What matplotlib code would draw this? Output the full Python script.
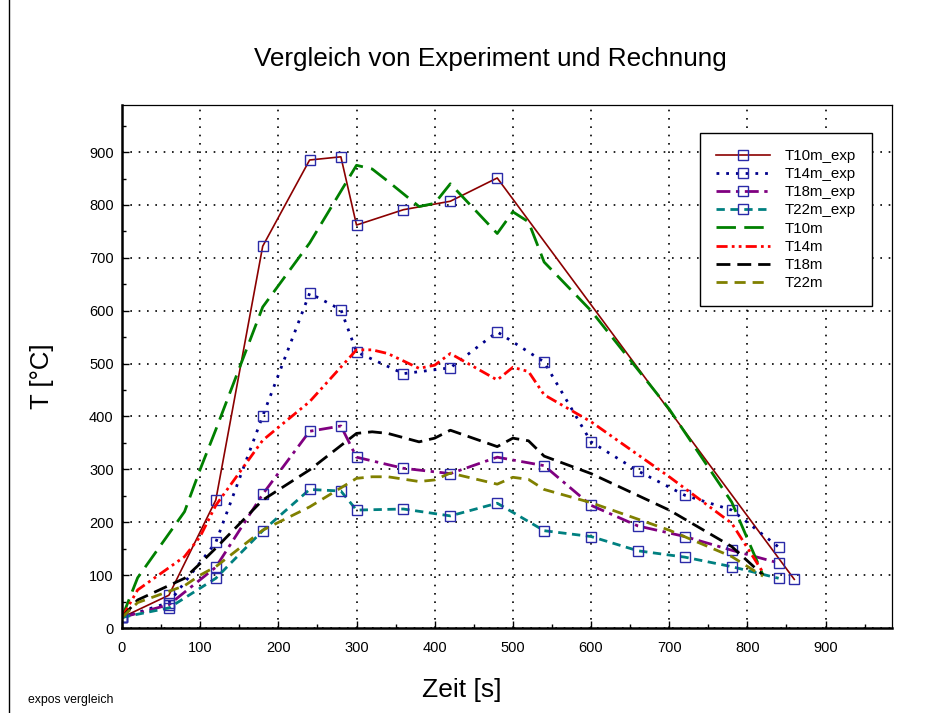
import matplotlib
matplotlib.use("Agg")
import matplotlib.pyplot as plt
from matplotlib.lines import Line2D
from matplotlib.ticker import MultipleLocator

plt.rcParams['font.family'] = ['Liberation Sans', 'DejaVu Sans']

# ---------------- data ----------------
t_exp10 = [0, 60, 120, 180, 240, 280, 300, 360, 420, 480, 860]
T10m_exp = [20, 62, 242, 722, 885, 891, 762, 791, 807, 851, 92]

t_exp = [0, 60, 120, 180, 240, 280, 300, 360, 420, 480, 540, 600, 660, 720, 780, 840]
T14m_exp = [20, 48, 162, 401, 633, 602, 522, 481, 492, 560, 503, 352, 297, 251, 223, 153]
T18m_exp = [20, 44, 115, 253, 372, 382, 323, 302, 292, 323, 307, 232, 193, 173, 147, 123]
T22m_exp = [20, 38, 94, 184, 262, 259, 223, 225, 212, 236, 184, 173, 146, 134, 116, 94]

t_sim = [0, 20, 80, 100, 120, 180, 240, 300, 320, 340, 380, 400, 420, 480, 500, 520, 540, 600, 700, 780, 820]
T10m = [20, 95, 220, 300, 375, 607, 728, 875, 868, 845, 797, 803, 840, 746, 787, 768, 692, 600, 414, 238, 100]
T14m = [20, 72, 135, 173, 232, 355, 428, 526, 526, 519, 491, 497, 519, 469, 493, 485, 441, 390, 286, 198, 105]
T18m = [20, 53, 94, 122, 151, 242, 299, 368, 371, 368, 352, 359, 374, 343, 359, 354, 325, 292, 223, 154, 100]
T22m = [20, 48, 80, 100, 116, 185, 229, 283, 286, 286, 277, 280, 293, 272, 285, 281, 262, 237, 185, 135, 98]

x_ticks = [0, 100, 200, 300, 400, 500, 600, 700, 800, 900]
y_ticks = [0, 100, 200, 300, 400, 500, 600, 700, 800, 900]

title = "Vergleich von Experiment und Rechnung"
xlabel = "Zeit [s]"
ylabel = "T [°C]"
footer = "expos vergleich"

# ---------------- figure ----------------
W, H = 943, 713
fig = plt.figure(figsize=(W / 100, H / 100), dpi=100)
ax = fig.add_axes([122 / W, (H - 628) / H, (892 - 122) / W, (628 - 105) / H])

mk = dict(marker='s', markersize=7, markerfacecolor='none',
          markeredgecolor='#2a2aa8', markeredgewidth=1.0)

ax.plot(t_exp10, T10m_exp, color='#8b0000', lw=1.2, label='T10m_exp', **mk)
ax.plot(t_exp, T14m_exp, color='#00008b', lw=2.0, linestyle=(0, (1, 2.5)), label='T14m_exp', **mk)
ax.plot(t_exp, T18m_exp, color='#800080', lw=2.0, linestyle=(0, (5, 2, 1.2, 2)), label='T18m_exp', **mk)
ax.plot(t_exp, T22m_exp, color='#008080', lw=2.0, linestyle=(0, (3, 2)), label='T22m_exp', **mk)

ax.plot(t_sim, T10m, color='#008000', lw=2.0, linestyle=(0, (7, 3)), label='T10m')
ax.plot(t_sim, T14m, color='#ff0000', lw=2.0, linestyle=(0, (4, 1.5, 1, 1.5, 1, 1.5)), label='T14m')
ax.plot(t_sim, T18m, color='#000000', lw=2.0, linestyle=(0, (5, 2.5)), label='T18m')
ax.plot(t_sim, T22m, color='#808000', lw=2.0, linestyle=(0, (4, 2.5)), label='T22m')

ax.set_xlim(0, 985)
ax.set_ylim(0, 989)
ax.set_xticks(x_ticks)
ax.set_yticks(y_ticks)
ax.xaxis.set_minor_locator(MultipleLocator(50))
ax.yaxis.set_minor_locator(MultipleLocator(50))
ax.tick_params(which='both', direction='in', top=False, right=False, labelsize=10.5)
ax.tick_params(axis='x', pad=9)
ax.tick_params(axis='y', pad=6)
ax.tick_params(which='major', length=5, width=1)
ax.tick_params(which='minor', length=3, width=1)
ax.grid(True, which='major', color='black', linestyle=(0, (1, 4)), lw=1.2)
ax.set_axisbelow(True)

for s in ['left', 'bottom']:
    ax.spines[s].set_linewidth(1.8)
for s in ['top', 'right']:
    ax.spines[s].set_linewidth(0.9)

fig.text(490 / W, 1 - 59 / H, title, ha='center', va='center', fontsize=18.8)
fig.text(462 / W, 1 - 690 / H, xlabel, ha='center', va='center', fontsize=19)
fig.text(42 / W, 1 - 376 / H, ylabel, ha='center', va='center', fontsize=18.5, rotation=90)
fig.text(28 / W, 1 - 700 / H, footer, ha='left', va='center', fontsize=8.8)

leg = ax.legend(loc='upper left', bbox_to_anchor=((700 - 122) / 770, (628 - 133) / 523),
                fontsize=10.8, numpoints=1, handlelength=3.6, handletextpad=1.0,
                labelspacing=0.28, borderpad=1.05, borderaxespad=0, fancybox=False,
                framealpha=1, edgecolor='black')
leg.get_frame().set_linewidth(1.0)

fig.add_artist(Line2D([8.5 / W, 8.5 / W], [0, 1], color='black', lw=1.0, transform=fig.transFigure))

fig.savefig('out.png', dpi=100)
